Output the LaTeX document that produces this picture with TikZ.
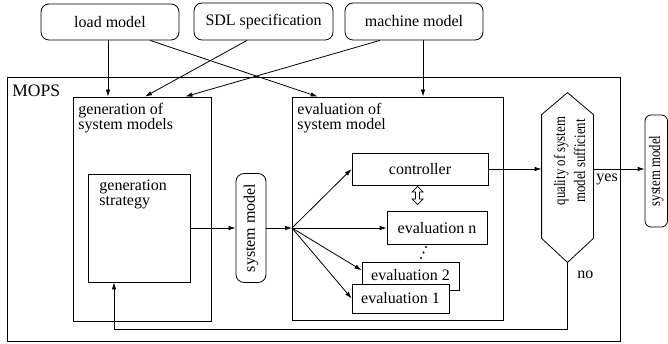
\documentclass[tikz,border=0pt]{standalone}
\usepackage{fontspec}
\setmainfont{Liberation Serif}
\newfontfamily\condfont[FakeStretch=0.8]{Liberation Serif}
\usetikzlibrary{arrows.meta,calc}
\begin{document}
\begin{tikzpicture}[x=1pt,y=-1pt,line width=0.8pt,
  every node/.style={font=\fontsize{16}{15}\selectfont},
  topbox/.style={draw,rounded corners=8pt,inner sep=0pt},
  box/.style={draw,inner sep=0pt},
  lbl/.style={inner sep=0pt,anchor=north west,align=left},
  arr/.style={-{Latex[length=7pt,width=4.5pt]}},
  cond/.style={font=\condfont\fontsize{16}{20}\selectfont}]
\useasboundingbox (0,0) rectangle (668,344);
% outer frame
\node[box,minimum width=613pt,minimum height=264pt] (mops) at (313.5,209) {};
\node[anchor=base west,inner sep=0pt,font=\fontsize{17.5}{18}\selectfont] (mopslbl) at (12,97) {MOPS};
% inputs
\node[topbox,minimum width=138pt,minimum height=36pt] (load) at (110,22) {load model};
\node[topbox,minimum width=139pt,minimum height=37pt] (sdl) at (263.5,21.5) {SDL specification};
\node[topbox,minimum width=138pt,minimum height=37pt] (mach) at (414,21.5) {machine model};
% generation
\node[box,minimum width=138pt,minimum height=224pt] (gen) at (142,209) {};
\node[lbl] (gentxt) at (78,103) {generation of\\system models};
\node[box,minimum width=102pt,minimum height=108pt] (gs) at (139,228) {};
\node[lbl] (gstxt) at (99,180) {generation\\strategy};
% system model
\node[box,rounded corners=8pt,minimum width=30pt,minimum height=109pt] (sm) at (251,228) {\rotatebox{90}{system model}};
% evaluation
\node[box,minimum width=211pt,minimum height=223pt] (eval) at (397.5,208.5) {};
\node[lbl] (evaltxt) at (297,103) {evaluation of\\system model};
\coordinate (fan) at (292,228);
\node[box,minimum width=136pt,minimum height=32pt] (ctrl) at (420,169) {controller};
\node[box,minimum width=100pt,minimum height=33pt] (en) at (437,228) {evaluation n};
\node[box,fill=white,minimum width=97pt,minimum height=28pt] (e2) at (410.5,276) {\raisebox{2pt}{evaluation 2}};
\node[box,fill=white,minimum width=97pt,minimum height=29pt] (e1) at (400.5,298.5) {evaluation 1};
\fill (421,258) circle[radius=1.2pt];
\fill (423.5,252.5) circle[radius=1.2pt];
\fill (426,247) circle[radius=1.2pt];
% hollow double arrow between controller and evaluation n
\coordinate (dtop) at (417.5,186.5);
\coordinate (dbot) at (417.5,204.5);
\draw[line width=0.7pt,line join=miter] (dtop) -- ++(5.5,5.5) -- ++(-3.5,0) -- ++(0,7) -- ++(3.5,0)
  -- (dbot) -- ++(-5.5,-5.5) -- ++(3.5,0) -- ++(0,-7) -- ++(-3.5,0) -- cycle;
% decision
\node[inner sep=0pt,minimum width=51pt,minimum height=169pt] (hexbb) at (567.5,177.5) {};
\draw ([yshift=-22pt]hexbb.north west) -- (hexbb.north) -- ([yshift=-22pt]hexbb.north east)
  -- ([yshift=24pt]hexbb.south east) -- (hexbb.south) -- ([yshift=24pt]hexbb.south west) -- cycle;
\node[cond,inner sep=0pt] (hextxt) at (571,161) {\rotatebox{90}{\begin{tabular}{@{}c@{}}quality of system\\model sufficient\end{tabular}}};
\node[box,cond,rounded corners=6pt,minimum width=22.5pt,minimum height=112pt] (rsm) at (656.25,171) {\rotatebox{90}{system model}};
\node[anchor=base west,inner sep=0pt] (yes) at (596,182) {yes};
\node[anchor=base west,inner sep=0pt] (no) at (577,278) {no};
\coordinate (fb) at (114,329);
% connectors
\draw[arr] ([xshift=-2pt]load.south) -- ([xshift=-2pt]load.south |- gen.north);
\draw[arr] ([xshift=40pt]load.south) -- ([xshift=26pt]eval.north west);
\draw[arr] ([xshift=-16.5pt]sdl.south) -- ([xshift=3pt]gen.north);
\draw[arr] ([xshift=-34pt]mach.south) -- ([xshift=-26pt]gen.north east);
\draw[arr] ([xshift=9pt]mach.south) -- ([xshift=9pt]mach.south |- eval.north);
\draw[arr] (gs.east) -- (sm.west);
\draw[arr] (sm.east) -- (fan);
\draw[arr] (fan) -- (ctrl.west);
\draw[arr] (fan) -- (en.west);
\draw[arr] (fan) -- ($(e2.north west)!0.3!(e2.south west)$);
\draw[arr] (fan) -- (e1.west);
\draw[arr] (ctrl.east) -- (ctrl.east -| hexbb.west);
\draw[arr] (ctrl.east -| hexbb.east) -- (ctrl.east -| rsm.west);
\draw[arr] (hexbb.south) -- (hexbb.south |- fb) -- (fb) -- (fb |- gs.south);
\end{tikzpicture}
\end{document}
